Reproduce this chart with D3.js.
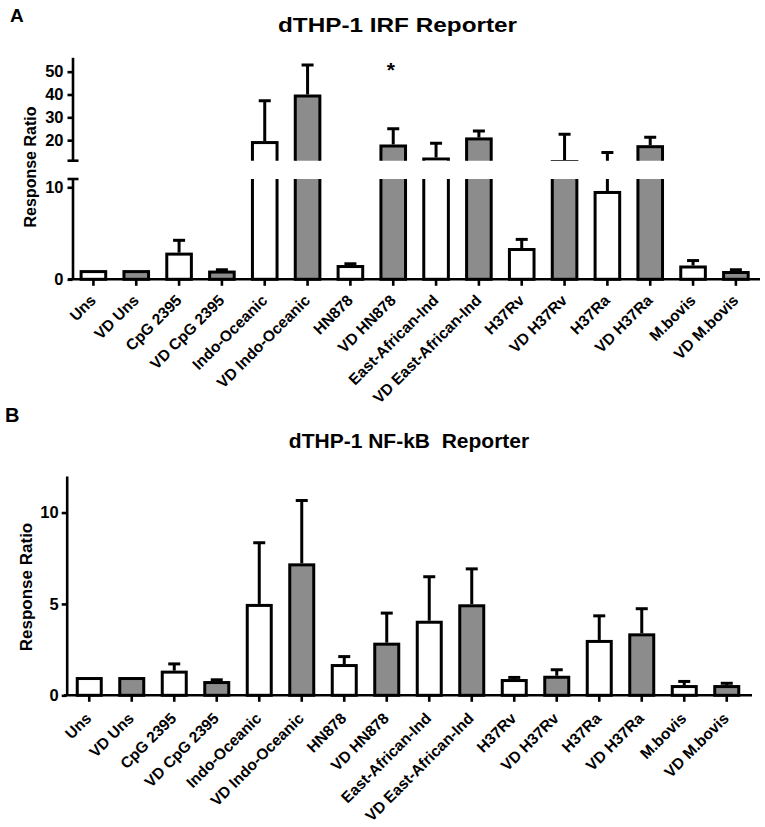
<!DOCTYPE html>
<html><head><meta charset="utf-8">
<script src="https://cdn.jsdelivr.net/npm/d3@7"></script>
<style>
body{margin:0;background:#fff}
svg{display:block}
text{font-family:"Liberation Sans",Arial,sans-serif;font-weight:bold;fill:#000}
</style>
</head><body>
<svg id="c" width="765" height="827"></svg>
<script>
// ---------------- data ----------------
const categories = ["Uns","VD Uns","CpG 2395","VD CpG 2395","Indo-Oceanic","VD Indo-Oceanic","HN878","VD HN878","East-African-Ind","VD East-African-Ind","H37Rv","VD H37Rv","H37Ra","VD H37Ra","M.bovis","VD M.bovis"];
// Panel A: dTHP-1 IRF Reporter
const irfMean = [1.0, 1.0, 2.9, 0.95, 19.6, 40.0, 1.55, 18.1, 12.4, 21.2, 3.4, 11.3, 9.6, 17.8, 1.5, 0.9];
const irfErr  = [0, 0, 1.5, 0.25, 18.3, 13.6, 0.3, 7.5, 6.9, 3.5, 1.1, 11.9, 5.7, 4.1, 0.7, 0.3];
const irfLowerTicks = [0, 10];
const irfUpperTicks = [20, 30, 40, 50];
const irfStars = ["VD HN878"];
// Panel B: dTHP-1 NF-kB Reporter
const nfkbMean = [1.0, 1.0, 1.35, 0.78, 5.0, 7.22, 1.71, 2.88, 4.08, 4.98, 0.89, 1.07, 3.03, 3.39, 0.56, 0.56];
const nfkbErr  = [0, 0, 0.45, 0.15, 3.43, 3.52, 0.49, 1.7, 2.49, 2.02, 0.17, 0.41, 1.4, 1.43, 0.28, 0.18];
const nfkbTicks = [0, 5, 10];

// ---------------- style ----------------
const GRAY = "#8c8c8c", SW = 3, AXW = 2.6, CAPW = 12;
const svg = d3.select("#c");
const rows = categories.map((c, i) => ({c, i}));
const isVD = c => c.startsWith("VD");

function drawBars(g, x, y, means, errs, baseY, barW) {
  // error bars
  const eg = g.append("g");
  rows.filter(d => errs[d.i] > 0).forEach(d => {
    const cx = x(d.c) + x.bandwidth() / 2;
    const top = y(means[d.i] + errs[d.i]);
    eg.append("line").attr("x1", cx).attr("x2", cx)
      .attr("y1", y(means[d.i])).attr("y2", top + SW / 2)
      .attr("stroke", "#000").attr("stroke-width", SW);
    eg.append("line").attr("x1", cx - CAPW / 2).attr("x2", cx + CAPW / 2)
      .attr("y1", top + SW / 2).attr("y2", top + SW / 2)
      .attr("stroke", "#000").attr("stroke-width", SW);
  });
  // bars (outer edge of stroke at the value)
  g.append("g").selectAll("rect").data(rows).join("rect")
    .attr("x", d => x(d.c) + (x.bandwidth() - barW) / 2)
    .attr("width", barW)
    .attr("y", d => y(means[d.i]) + SW / 2)
    .attr("height", d => Math.max(0, baseY - y(means[d.i]) - SW / 2))
    .attr("fill", d => isVD(d.c) ? GRAY : "#fff")
    .attr("stroke", "#000").attr("stroke-width", SW);
}

function drawXAxis(g, x, axisY, x0, x1, labOffX, labOffY) {
  g.append("line").attr("x1", x0).attr("x2", x1).attr("y1", axisY).attr("y2", axisY)
    .attr("stroke", "#000").attr("stroke-width", AXW);
  g.append("g").selectAll("line").data(categories).join("line")
    .attr("x1", d => x(d) + x.bandwidth() / 2).attr("x2", d => x(d) + x.bandwidth() / 2)
    .attr("y1", axisY).attr("y2", axisY + 6.5)
    .attr("stroke", "#000").attr("stroke-width", AXW);
  g.append("g").selectAll("text").data(categories).join("text")
    .attr("transform", d => `translate(${x(d) + x.bandwidth() / 2 + labOffX},${axisY + labOffY}) rotate(-45)`)
    .attr("text-anchor", "end")
    .style("font-size", "15.5px")
    .text(d => d);
}

function styleYAxis(sel) {
  sel.select(".domain").attr("stroke", "#000").attr("stroke-width", AXW);
  sel.selectAll(".tick line").attr("stroke", "#000").attr("stroke-width", AXW);
  sel.selectAll(".tick text").style("font-size", "16.5px").attr("fill", "#000")
    .style("font-family", '"Liberation Sans",Arial,sans-serif').style("font-weight", "bold");
}

// ================= Panel A =================
{
  const axX = 72.5, axisY = 279.3;
  const x = d3.scaleBand().domain(categories).range([72, 757.3]).paddingInner(0).paddingOuter(0);
  const yLow = d3.scaleLinear().domain([0, 10.9]).range([axisY, 179]);
  const yUp = d3.scaleLinear().domain([11, 56.3]).range([160.7, 57.3]);

  const defs = svg.append("defs");
  defs.append("clipPath").attr("id", "clipLow").append("rect").attr("x", 0).attr("y", 179).attr("width", 765).attr("height", 110);
  defs.append("clipPath").attr("id", "clipUp").append("rect").attr("x", 0).attr("y", 0).attr("width", 765).attr("height", 160.7);

  const barW = 24.6;
  drawBars(svg.append("g").attr("clip-path", "url(#clipLow)"), x, yLow, irfMean, irfErr, axisY, barW);
  drawBars(svg.append("g").attr("clip-path", "url(#clipUp)"), x, yUp, irfMean, irfErr, 200, barW);

  // y axes (broken)
  const gl = svg.append("g").attr("transform", `translate(${axX},0)`)
    .call(d3.axisLeft(yLow).tickValues(irfLowerTicks).tickSize(5).tickSizeOuter(0).tickPadding(4));
  styleYAxis(gl);
  const gu = svg.append("g").attr("transform", `translate(${axX},0)`)
    .call(d3.axisLeft(yUp).tickValues(irfUpperTicks).tickSize(5).tickSizeOuter(0).tickPadding(4));
  styleYAxis(gu);
  [yLow.range()[1], yUp.range()[0]].forEach(yy => {
    svg.append("line").attr("x1", axX - 5).attr("x2", axX + 6).attr("y1", yy).attr("y2", yy)
      .attr("stroke", "#000").attr("stroke-width", AXW);
  });

  drawXAxis(svg.append("g"), x, axisY, 68, 760, 3.5, 22);

  // significance star
  irfStars.forEach(s => {
    const i = categories.indexOf(s);
    svg.append("text").attr("x", x(s) + x.bandwidth() / 2 - 2.5).attr("y", yUp(irfMean[i] + irfErr[i]) - 50)
      .attr("text-anchor", "middle").style("font-size", "21px").text("*");
  });

  svg.append("text").attr("x", 397.5).attr("y", 32).attr("text-anchor", "middle")
    .attr("textLength", 239).attr("lengthAdjust", "spacingAndGlyphs")
    .style("font-size", "21px").text("dTHP-1 IRF Reporter");
  svg.append("text").attr("x", 10).attr("y", 22).style("font-size", "19px").text("A");
  svg.append("text").attr("transform", "translate(36,167) rotate(-90)").attr("text-anchor", "middle")
    .style("font-size", "16px").text("Response Ratio");
}

// ================= Panel B =================
{
  const axX = 66.7, axisY = 695.3;
  const x = d3.scaleBand().domain(categories).range([68, 748]).paddingInner(0).paddingOuter(0);
  const y = d3.scaleLinear().domain([0, 12]).range([axisY, 476]);

  drawBars(svg.append("g"), x, y, nfkbMean, nfkbErr, axisY, 24);

  const gy = svg.append("g").attr("transform", `translate(${axX},0)`)
    .call(d3.axisLeft(y).tickValues(nfkbTicks).tickSize(5).tickSizeOuter(0).tickPadding(3));
  styleYAxis(gy);

  drawXAxis(svg.append("g"), x, axisY, 64, 752, 3, 24);

  svg.append("text").attr("x", 409).attr("y", 448).attr("text-anchor", "middle")
    .style("font-size", "21px").style("white-space", "pre").text("dTHP-1 NF-kB  Reporter");
  svg.append("text").attr("x", 5).attr("y", 422).style("font-size", "20px").text("B");
  svg.append("text").attr("transform", "translate(32,587) rotate(-90)").attr("text-anchor", "middle")
    .style("font-size", "17px").text("Response Ratio");
}
</script>
</body></html>
